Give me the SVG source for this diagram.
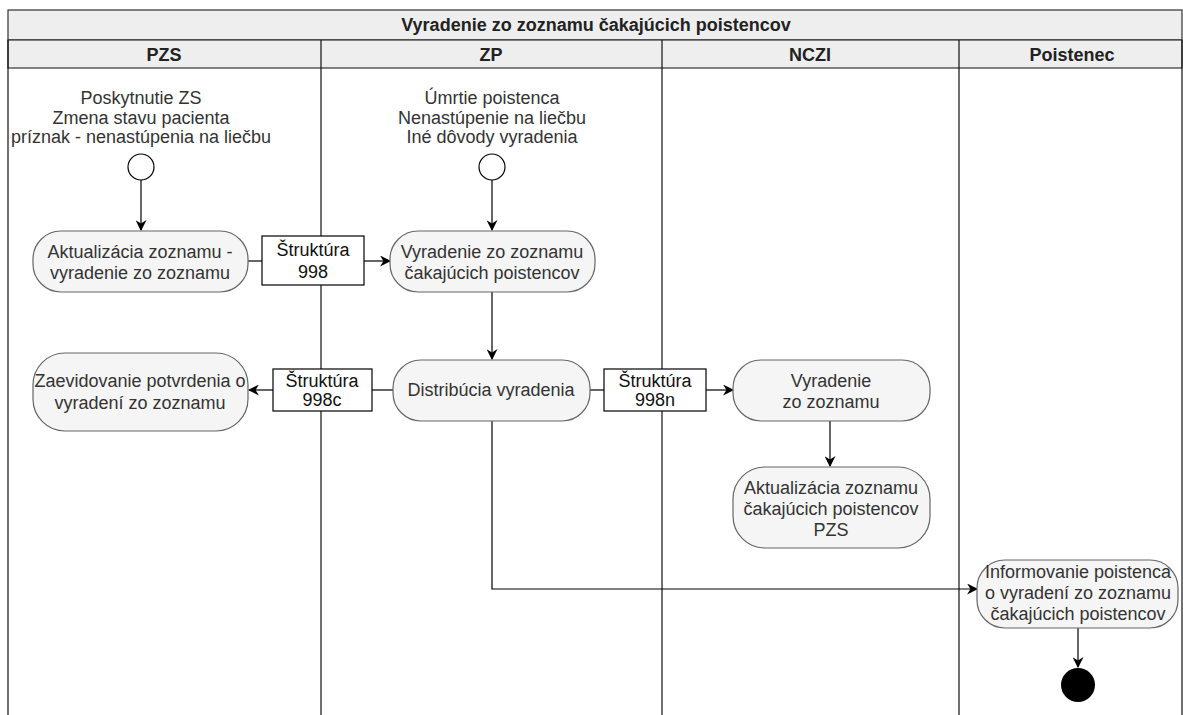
<svg xmlns="http://www.w3.org/2000/svg" width="1183" height="715" viewBox="0 0 1183 715">
<defs>
<marker id="arr" viewBox="0 0 10 10" refX="9" refY="5" markerWidth="11" markerHeight="11" markerUnits="userSpaceOnUse" orient="auto">
<path d="M0,0 L10,5 L0,10 L3,5 Z" fill="#000"/>
</marker>
<style>
.hdr{fill:#eeeeee;stroke:#333;stroke-width:1.2}
.lane{fill:none;stroke:#111;stroke-width:1.2}
.ht{font-family:"Liberation Sans",Arial,sans-serif;font-size:18px;font-weight:bold;fill:#222;text-anchor:middle}
.act{fill:#f5f5f5;stroke:#666;stroke-width:1.2}
.t{font-family:"Liberation Sans",Arial,sans-serif;font-size:18px;fill:#333;text-anchor:middle}
.box{fill:#fff;stroke:#000;stroke-width:1.2}
.bt{font-family:"Liberation Sans",Arial,sans-serif;font-size:18px;fill:#111;text-anchor:middle}
.c{fill:none;stroke:#000;stroke-width:1.2}
.start{fill:#fff;stroke:#000;stroke-width:1.2}
</style>
</defs>
<g id="lanes">
<rect class="hdr" x="8" y="10" width="1174" height="30"/>
<text class="ht" x="596" y="31">Vyradenie zo zoznamu čakajúcich poistencov</text>
<rect class="hdr" x="8" y="40" width="1174" height="28"/>
<line class="lane" x1="8" y1="40" x2="8" y2="715"/>
<line class="lane" x1="321" y1="40" x2="321" y2="715"/>
<line class="lane" x1="662" y1="40" x2="662" y2="715"/>
<line class="lane" x1="959" y1="40" x2="959" y2="715"/>
<line class="lane" x1="1182" y1="40" x2="1182" y2="715"/>
<text class="ht" x="164" y="61">PZS</text>
<text class="ht" x="491" y="61">ZP</text>
<text class="ht" x="810" y="61">NCZI</text>
<text class="ht" x="1072" y="61">Poistenec</text>
</g>
<g id="connectors">
<line class="c" x1="141" y1="180" x2="141" y2="230" marker-end="url(#arr)"/>
<line class="c" x1="248" y1="261" x2="262" y2="261"/>
<line class="c" x1="364" y1="261" x2="390" y2="261" marker-end="url(#arr)"/>
<line class="c" x1="492" y1="180" x2="492" y2="230" marker-end="url(#arr)"/>
<line class="c" x1="492" y1="292" x2="492" y2="359" marker-end="url(#arr)"/>
<line class="c" x1="393" y1="390" x2="372" y2="390"/>
<line class="c" x1="273" y1="390" x2="249" y2="390" marker-end="url(#arr)"/>
<line class="c" x1="590" y1="390" x2="604" y2="390"/>
<line class="c" x1="706" y1="390" x2="733" y2="390" marker-end="url(#arr)"/>
<line class="c" x1="830" y1="421" x2="830" y2="466" marker-end="url(#arr)"/>
<polyline class="c" points="492,421 492,589 977,589" marker-end="url(#arr)"/>
<line class="c" x1="1078" y1="628" x2="1078" y2="667" marker-end="url(#arr)"/>
</g>
<g id="start-pzs">
<text class="t" x="141" y="104">Poskytnutie ZS</text>
<text class="t" x="141" y="124">Zmena stavu pacienta</text>
<text class="t" x="141" y="143">príznak - nenastúpenia na liečbu</text>
<circle class="start" cx="141" cy="167" r="13"/>
</g>
<g id="start-zp">
<text class="t" x="492" y="104">Úmrtie poistenca</text>
<text class="t" x="492" y="124">Nenastúpenie na liečbu</text>
<text class="t" x="492" y="143">Iné dôvody vyradenia</text>
<circle class="start" cx="492" cy="167" r="13"/>
</g>
<g id="n-aktualizacia">
<rect class="act" x="33" y="231" width="215" height="61" rx="28"/>
<text class="t" x="140" y="258">Aktualizácia zoznamu -</text>
<text class="t" x="140" y="279">vyradenie zo zoznamu</text>
</g>
<g id="s-998">
<rect class="box" x="262" y="236" width="102" height="49"/>
<text class="bt" x="313" y="256">Štruktúra</text>
<text class="bt" x="313" y="278">998</text>
</g>
<g id="n-vyradenie-zp">
<rect class="act" x="390" y="231" width="205" height="61" rx="28"/>
<text class="t" x="492" y="258">Vyradenie zo zoznamu</text>
<text class="t" x="492" y="279">čakajúcich poistencov</text>
</g>
<g id="n-distribucia">
<rect class="act" x="393" y="360" width="197" height="61" rx="28"/>
<text class="t" x="491" y="396">Distribúcia vyradenia</text>
</g>
<g id="s-998c">
<rect class="box" x="273" y="369" width="99" height="42"/>
<text class="bt" x="322" y="387">Štruktúra</text>
<text class="bt" x="322" y="406">998c</text>
</g>
<g id="n-zaevidovanie">
<rect class="act" x="33" y="353" width="215" height="78" rx="32"/>
<text class="t" x="140" y="387">Zaevidovanie potvrdenia o</text>
<text class="t" x="140" y="409">vyradení zo zoznamu</text>
</g>
<g id="s-998n">
<rect class="box" x="604" y="369" width="102" height="42"/>
<text class="bt" x="655" y="387">Štruktúra</text>
<text class="bt" x="655" y="406">998n</text>
</g>
<g id="n-vyradenie-nczi">
<rect class="act" x="733" y="360" width="197" height="61" rx="28"/>
<text class="t" x="831" y="387">Vyradenie</text>
<text class="t" x="831" y="408">zo zoznamu</text>
</g>
<g id="n-aktualizacia-nczi">
<rect class="act" x="733" y="467" width="197" height="81" rx="32"/>
<text class="t" x="831" y="494">Aktualizácia zoznamu</text>
<text class="t" x="831" y="515">čakajúcich poistencov</text>
<text class="t" x="831" y="536">PZS</text>
</g>
<g id="n-informovanie">
<rect class="act" x="977" y="560" width="201" height="68" rx="28"/>
<text class="t" x="1078" y="578">Informovanie poistenca</text>
<text class="t" x="1078" y="599">o vyradení zo zoznamu</text>
<text class="t" x="1078" y="620">čakajúcich poistencov</text>
</g>
<g id="end">
<circle cx="1078" cy="685" r="17" fill="#000"/>
</g>
</svg>
